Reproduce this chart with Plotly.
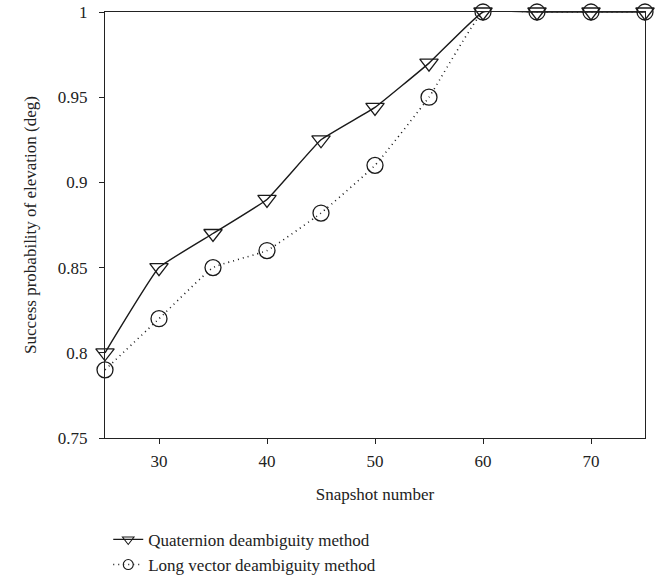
import plotly.graph_objects as go

snapshots = [25, 30, 35, 40, 45, 50, 55, 60, 65, 70, 75]
quaternion = [0.80, 0.85, 0.87, 0.89, 0.925, 0.944, 0.97, 1.0, 1.0, 1.0, 1.0]
long_vector = [0.79, 0.82, 0.85, 0.86, 0.882, 0.91, 0.95, 1.0, 1.0, 1.0, 1.0]
series_names = ["Quaternion deambiguity method", "Long vector deambiguity method"]
x_ticks = [30, 40, 50, 60, 70]
y_ticks = [0.75, 0.8, 0.85, 0.9, 0.95, 1.0]
y_tick_labels = ["0.75", "0.8", "0.85", "0.9", "0.95", "1"]

FONT = "Liberation Serif"
INK = "#1a1a1a"
DOT = "1px,4px"

fig = go.Figure()
fig.add_trace(go.Scatter(
    x=snapshots, y=quaternion, mode="lines+markers", showlegend=False,
    line=dict(color=INK, width=1.4, shape="spline", smoothing=0.3),
    marker=dict(symbol="triangle-down-open", size=16, color=INK, line=dict(width=1.3)),
    cliponaxis=False,
))
fig.add_trace(go.Scatter(
    x=snapshots, y=long_vector, mode="lines+markers", showlegend=False,
    line=dict(color=INK, width=1.6, dash=DOT, shape="spline", smoothing=0.3),
    marker=dict(symbol="circle-open", size=16, color=INK, line=dict(width=1.3)),
    cliponaxis=False,
))
# legend entries (smaller markers, as in the reference legend)
fig.add_trace(go.Scatter(
    x=[None], y=[None], mode="lines+markers", name=series_names[0],
    line=dict(color=INK, width=1.3),
    marker=dict(symbol="triangle-down-open", size=10, color=INK, line=dict(width=1.1)),
))
fig.add_trace(go.Scatter(
    x=[None], y=[None], mode="lines+markers", name=series_names[1],
    line=dict(color=INK, width=1.5, dash=DOT),
    marker=dict(symbol="circle-open", size=10, color=INK, line=dict(width=1.1)),
))

fig.update_layout(
    width=665, height=584,
    margin=dict(l=105, r=20, t=12, b=146, autoexpand=False),
    plot_bgcolor="white", paper_bgcolor="white",
    font=dict(family=FONT, size=17, color="#222"),
    showlegend=True,
    legend=dict(
        x=0.006, y=-0.197, xanchor="left", yanchor="top",
        orientation="v", font=dict(family=FONT, size=17, color="#222"),
        itemwidth=30, tracegroupgap=0, bgcolor="rgba(0,0,0,0)",
    ),
    xaxis=dict(
        range=[25, 75], tickvals=x_ticks, ticks="outside", ticklen=5,
        tickcolor="#222", linecolor="#222", linewidth=1.3, mirror=True,
        showgrid=False, zeroline=False, ticklabelstandoff=2,
        title=dict(text="Snapshot number", font=dict(family=FONT, size=17), standoff=18),
    ),
    yaxis=dict(
        range=[0.75, 1.0], tickvals=y_ticks, ticktext=y_tick_labels,
        ticks="outside", ticklen=5,
        tickcolor="#222", linecolor="#222", linewidth=1.3, mirror=True,
        showgrid=False, zeroline=False, ticklabelstandoff=8,
        title=dict(text="Success probability of elevation (deg)", font=dict(family=FONT, size=17), standoff=16),
    ),
)

fig.write_html("out.html")
